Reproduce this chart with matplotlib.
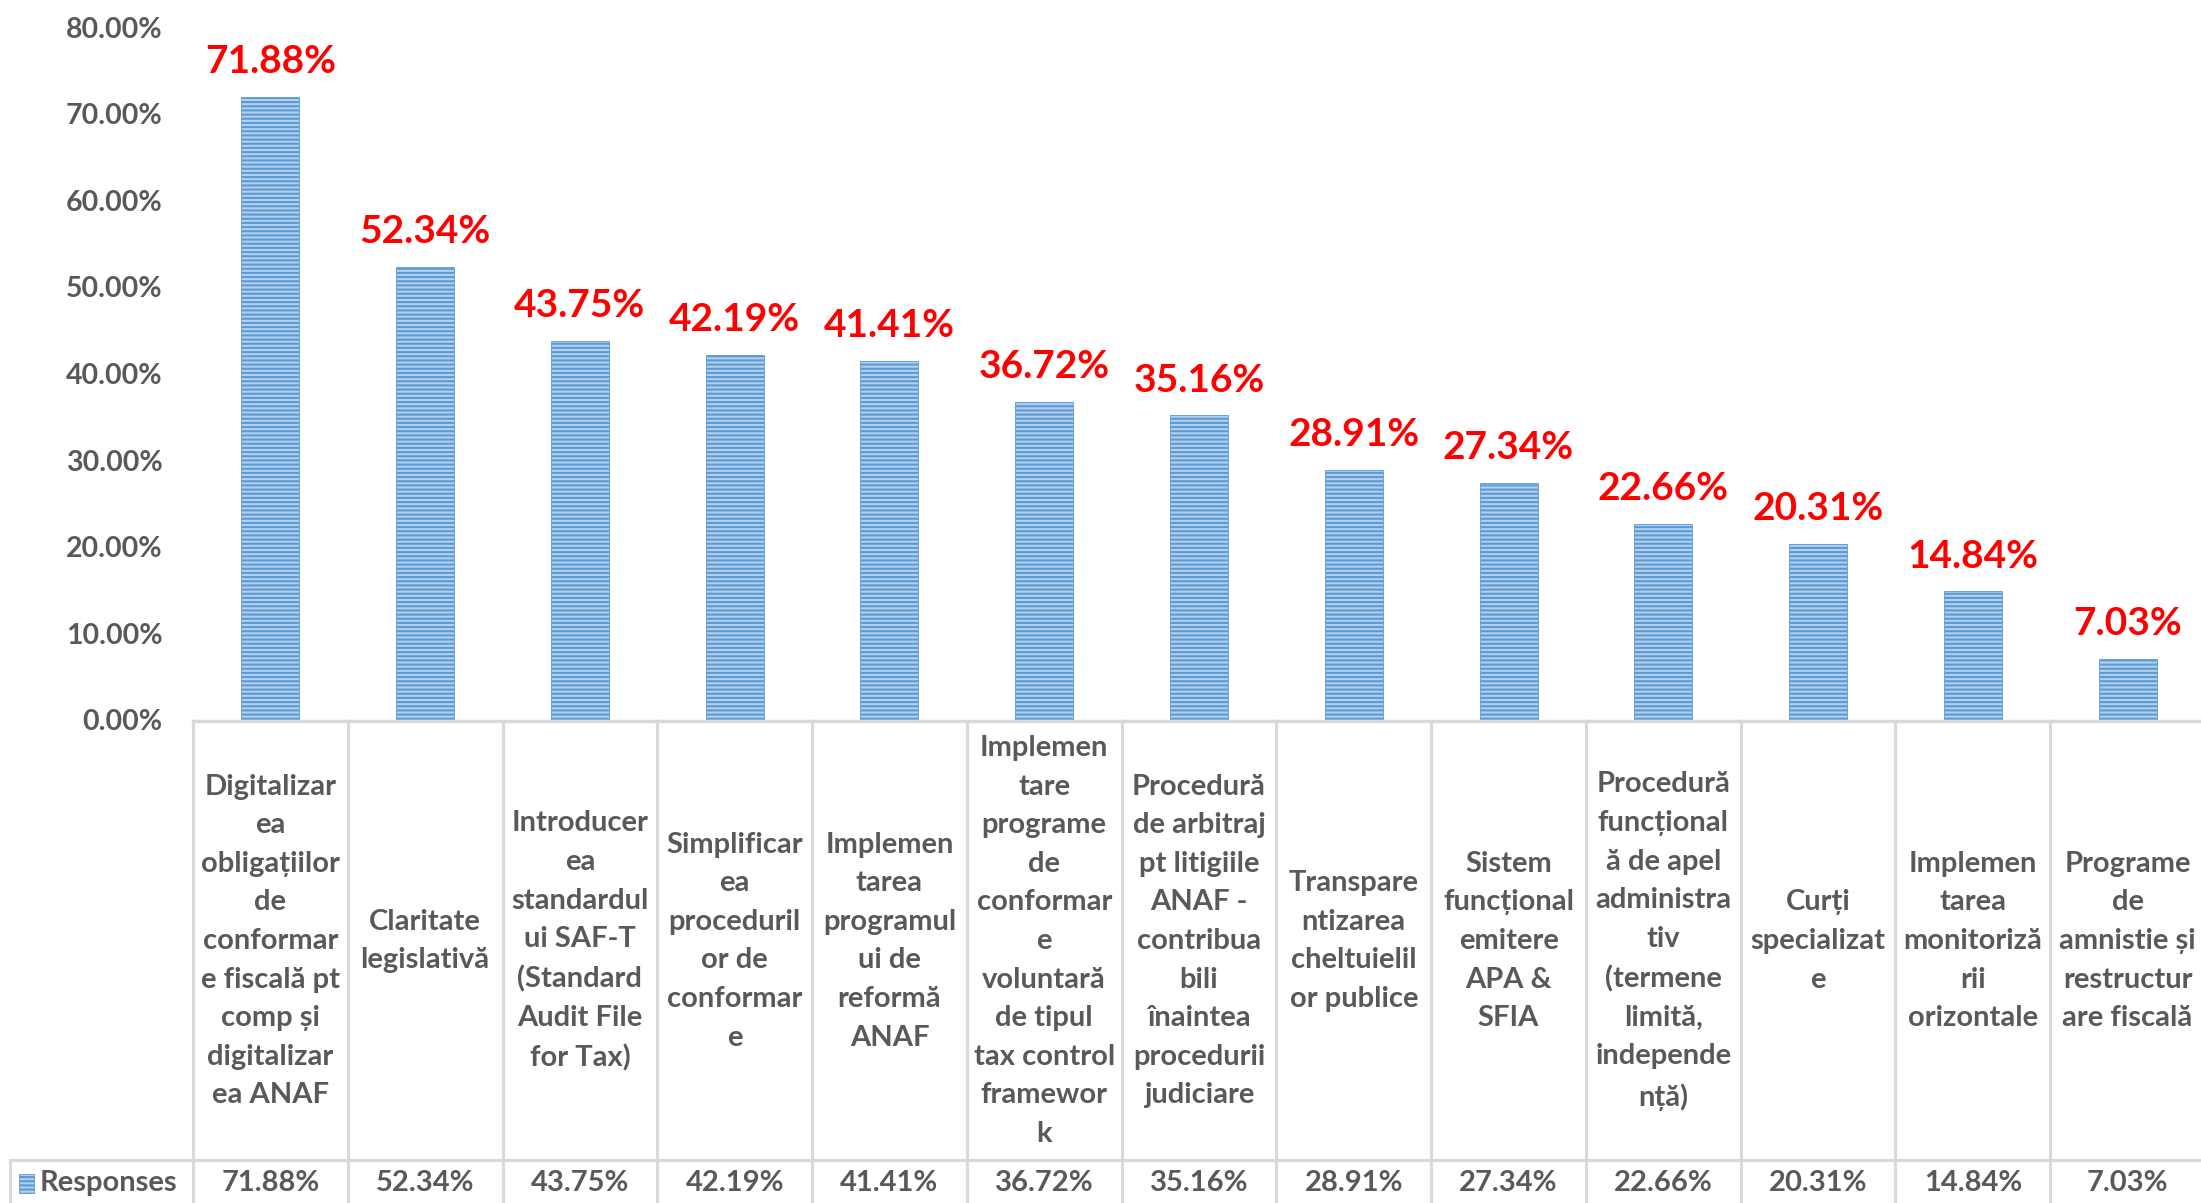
import matplotlib
matplotlib.use("Agg")
import matplotlib.pyplot as plt
from matplotlib.lines import Line2D
from matplotlib.patches import Rectangle
import matplotlib.transforms as mtransforms

categories = [
    "Digitalizar\nea\nobligațiilor\nde\nconformar\ne fiscală pt\ncomp și\ndigitalizar\nea ANAF",
    "Claritate\nlegislativă",
    "Introducer\nea\nstandardul\nui SAF-T\n(Standard\nAudit File\nfor Tax)",
    "Simplificar\nea\nproceduril\nor de\nconformar\ne",
    "Implemen\ntarea\nprogramul\nui de\nreformă\nANAF",
    "Implemen\ntare\nprograme\nde\nconformar\ne\nvoluntară\nde tipul\ntax control\nframewor\nk",
    "Procedură\nde arbitraj\npt litigiile\nANAF -\ncontribua\nbili\nînaintea\nprocedurii\njudiciare",
    "Transpare\nntizarea\ncheltuielil\nor publice",
    "Sistem\nfuncțional\nemitere\nAPA &\nSFIA",
    "Procedură\nfuncțional\nă de apel\nadministra\ntiv\n(termene\nlimită,\nindepende\nnță)",
    "Curți\nspecializat\ne",
    "Implemen\ntarea\nmonitoriză\nrii\norizontale",
    "Programe\nde\namnistie și\nrestructur\nare fiscală",
]
values = [71.88, 52.34, 43.75, 42.19, 41.41, 36.72, 35.16, 28.91, 27.34, 22.66, 20.31, 14.84, 7.03]
series_name = "Responses"
yticks = [0, 10, 20, 30, 40, 50, 60, 70, 80]

plt.rcParams['font.family'] = ['Lato', 'DejaVu Sans']
plt.rcParams['hatch.linewidth'] = 1.5

W, H = 2201, 1203
GRAY = '#595959'
LINE = '#D9D9D9'
BLUE = '#5B9BD5'
LIGHT = '#B4D0EC'

fig = plt.figure(figsize=(W / 100, H / 100), dpi=100)

def fx(px):
    return px / W

def fy(py):
    return 1 - py / H

ax = fig.add_axes([fx(193), fy(720), fx(2205) - fx(193), fy(27) - fy(720)])
ax.set_xlim(-0.5, len(values) - 0.5)
ax.set_ylim(0, 80)
x = list(range(len(values)))
ax.bar(x, values, width=0.375, color=LIGHT, edgecolor=BLUE, linewidth=0.6, hatch='----')
for xi, v in zip(x, values):
    ax.annotate(f"{v:.2f}%", (xi, v), xytext=(0, 25.5), textcoords='offset points',
                ha='center', va='center', color='#FF0000', fontsize=28, fontweight='bold')

ax.set_yticks(yticks)
ax.set_yticklabels([f"{t:.2f}%" for t in yticks], color=GRAY, fontsize=20.5, fontweight='bold')
ax.tick_params(axis='y', length=0, pad=22)
ax.set_xticks([])
for s in ax.spines.values():
    s.set_visible(False)

# data table
tr = mtransforms.blended_transform_factory(ax.transData, fig.transFigure)
n = len(values)
fig.add_artist(Line2D([-0.5, n - 0.5], [fy(721), fy(721)], transform=tr, color=LINE, lw=2.5))
fig.add_artist(Line2D([fx(10), fx(2205)], [fy(1160), fy(1160)], transform=fig.transFigure, color=LINE, lw=2.2))
fig.add_artist(Line2D([fx(10), fx(10)], [fy(1160), fy(1210)], transform=fig.transFigure, color=LINE, lw=2.2))
for i in range(n + 1):
    fig.add_artist(Line2D([i - 0.5, i - 0.5], [fy(721), fy(1210)], transform=tr, color=LINE, lw=2.2))

for xi, c, v in zip(x, categories, values):
    fig.text(xi, fy(941), c, transform=tr, ha='center', va='center', multialignment='center',
             color=GRAY, fontsize=21, fontweight='bold', linespacing=1.6)
    fig.text(xi, fy(1183), f"{v:.2f}%", transform=tr, ha='center', va='center',
             color=GRAY, fontsize=21, fontweight='bold')

# legend key
fig.add_artist(Rectangle((fx(19), fy(1193)), fx(15), fy(1174) - fy(1193), transform=fig.transFigure,
                         facecolor=LIGHT, edgecolor=BLUE, linewidth=0.6, hatch='----'))
fig.text(fx(40), fy(1183), series_name, ha='left', va='center', color=GRAY, fontsize=21, fontweight='bold')

fig.savefig("out.png", dpi=100)
